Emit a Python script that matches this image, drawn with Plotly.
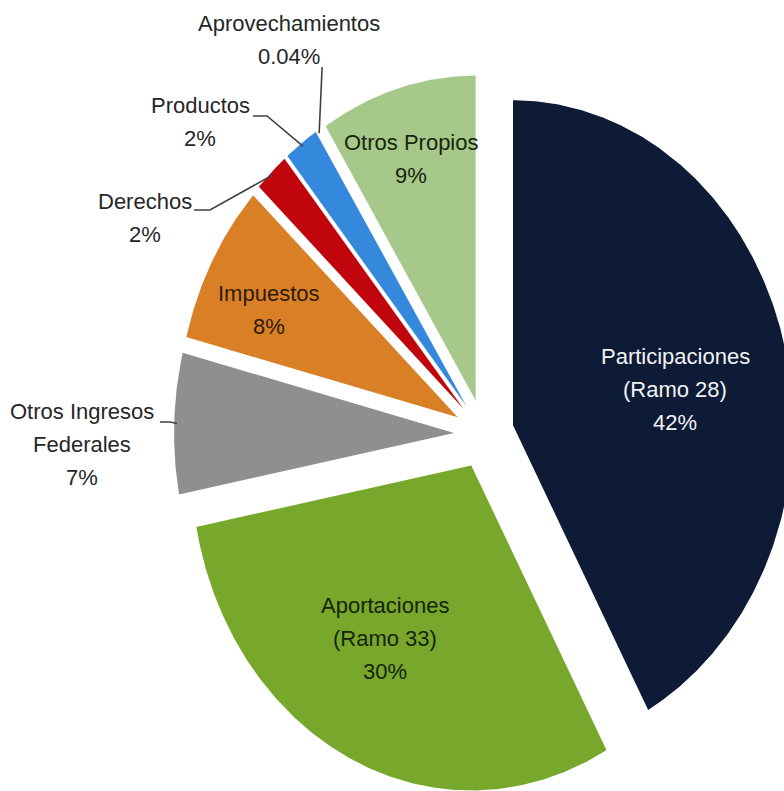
import numpy as np
import plotly.graph_objects as go

# ---------------- data ----------------
categories = ["Participaciones (Ramo 28)", "Aportaciones (Ramo 33)", "Otros Ingresos Federales",
              "Impuestos", "Derechos", "Productos", "Aprovechamientos", "Otros Propios"]
values = [42, 30, 7, 8, 2, 2, 0.04, 9]
pct_labels = ["42%", "30%", "7%", "8%", "2%", "2%", "0.04%", "9%"]
label_lines = [["Participaciones", "(Ramo 28)"], ["Aportaciones", "(Ramo 33)"],
               ["Otros Ingresos", "Federales"], ["Impuestos"], ["Derechos"],
               ["Productos"], ["Aprovechamientos"], ["Otros Propios"]]

# ---------------- style ----------------
colors = ["#0D1B36", "#77A82B", "#8F8F8F", "#D98026", "#C0060C", "#3589DC", "#7F7F7F", "#A6C98B"]
text_colors = ["#F2F2F2", "#16240A", "#262626", "#2E1A05", "#262626", "#262626", "#262626", "#17260C"]
FONT = "Liberation Sans Narrow, Arial Narrow, Liberation Sans, Arial, sans-serif"
FS = 22
LS = 33                  # line spacing in pixels
EXPLODE = 0.107          # explosion as fraction of radius

# page geometry (pixels) of the pie centre and radii
W, H = 784, 791
CX, CY, RX, RY = 484, 434, 280, 325


def px2d(px, py):
    return (px - CX) / RX, (CY - py) / RY


# label block centres (pixels) and leader-line anchor points on label side (pixels)
label_pos = [(675, 389), (385, 638), (82, 444), (269, 310), (145, 218), (200, 122), (289, 40), (411, 159)]
leaders = {2: [(160, 422), (170, 422)],
           4: [(194, 210), (210, 210)],
           5: [(253, 116), (267, 116)],
           6: [(322, 67), (322, 70)]}

fig = go.Figure()
total = sum(values)
cum = 0.0
mids = []
for i, (name, v, col) in enumerate(zip(categories, values, colors)):
    a0 = cum / total * 2 * np.pi
    a1 = (cum + v) / total * 2 * np.pi
    cum += v
    mid = (a0 + a1) / 2
    mids.append(mid)
    ox, oy = EXPLODE * np.sin(mid), EXPLODE * np.cos(mid)
    n = max(3, int(np.degrees(a1 - a0) * 2))
    t = np.linspace(a0, a1, n)
    xs = np.concatenate([[ox], ox + np.sin(t), [ox]])
    ys = np.concatenate([[oy], oy + np.cos(t), [oy]])
    fig.add_trace(go.Scatter(x=xs, y=ys, mode="lines", fill="toself", fillcolor=col,
                             line=dict(width=0, color=col), hoverinfo="text",
                             text=f"{name}: {pct_labels[i]}", showlegend=False))

# leader lines
for i, pts in leaders.items():
    mid = mids[i]
    r = 1 + EXPLODE - 0.01
    ex, ey = r * np.sin(mid), r * np.cos(mid)
    dpts = [px2d(*p) for p in pts]
    xs = [p[0] for p in dpts] + [ex]
    ys = [p[1] for p in dpts] + [ey]
    fig.add_trace(go.Scatter(x=xs, y=ys, mode="lines", line=dict(color="#404040", width=1.6),
                             hoverinfo="skip", showlegend=False))

# labels (one annotation per line for Excel-like line spacing)
for i in range(len(categories)):
    lines = label_lines[i] + [pct_labels[i]]
    n = len(lines)
    bx, by = label_pos[i]
    for k, txt in enumerate(lines):
        ly = by + (k - (n - 1) / 2) * LS
        x, y = px2d(bx, ly)
        fig.add_annotation(x=x, y=y, xref="x", yref="y", showarrow=False, text=txt,
                           font=dict(family=FONT, size=FS, color=text_colors[i]),
                           xanchor="center", yanchor="middle")

fig.update_layout(
    width=W, height=H,
    margin=dict(l=0, r=0, t=0, b=0),
    paper_bgcolor="white", plot_bgcolor="white",
    xaxis=dict(visible=False, range=[-CX / RX, (W - CX) / RX], fixedrange=True),
    yaxis=dict(visible=False, range=[-(H - CY) / RY, CY / RY], fixedrange=True),
    showlegend=False,
)

fig.write_html("out.html", post_script="document.body.style.margin='0px';",
               config={"displayModeBar": False})
